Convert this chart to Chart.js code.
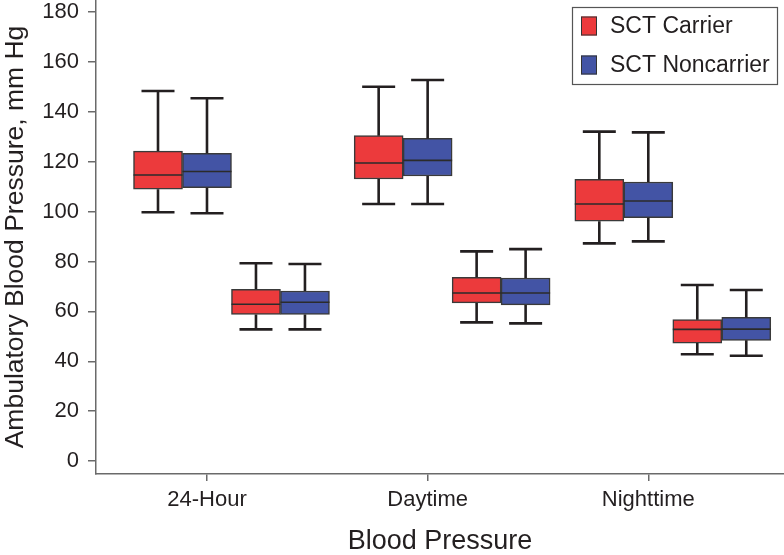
<!doctype html>
<html>
    <head>
        <meta charset="UTF-8" />
        <script src="https://cdn.jsdelivr.net/npm/chart.js"></script>
        <style>
            body { margin: 0; background: #fff; }
        </style>
    </head>
    <body>
        <canvas id="bpChart" width="784" height="555"></canvas>
        <script>
            // tick labels / categories
            const categories = ["24-Hour", "Daytime", "Nighttime"];
            const yTicks = [0, 20, 40, 60, 80, 100, 120, 140, 160, 180];
            const seriesNames = ["SCT Carrier", "SCT Noncarrier"];

            // [min, q1, median, q3, max] per category
            const carrierSystolic = [
                [99.8, 109.0, 114.7, 124.3, 148.4],
                [103.1, 113.1, 119.5, 130.5, 150.1],
                [87.3, 96.2, 103.1, 113.0, 132.1],
            ];
            const carrierDiastolic = [
                [52.8, 58.8, 62.9, 68.9, 79.3],
                [55.6, 63.4, 67.4, 73.7, 84.1],
                [42.8, 47.3, 52.8, 56.7, 70.6],
            ];
            const noncarrierSystolic = [
                [99.4, 109.6, 116.1, 123.4, 145.5],
                [103.1, 114.3, 120.6, 129.4, 152.8],
                [88.1, 97.6, 104.3, 111.9, 131.8],
            ];
            const noncarrierDiastolic = [
                [52.8, 58.8, 63.7, 68.2, 79.0],
                [55.2, 62.6, 67.4, 73.4, 85.0],
                [42.2, 48.4, 52.9, 57.6, 68.6],
            ];

            const RED = "#ec3a3c";
            const BLUE = "#4354a5";
            const INK = "#231f20";
            const AXIS = "#6a6a6a";
            const BOX_W = 49;
            const STEP = 0.222; // one box width in category units

            // place the systolic and diastolic boxes of one series around each tick
            const buildBoxes = (sys, dia, sysOff, diaOff) => {
                const data = [];
                const stats = [];
                categories.forEach((c, i) => {
                    data.push({ x: i + sysOff, y: [sys[i][1], sys[i][3]] });
                    stats.push(sys[i]);
                    data.push({ x: i + diaOff, y: [dia[i][1], dia[i][3]] });
                    stats.push(dia[i]);
                });
                return { data, stats };
            };

            const carrier = buildBoxes(carrierSystolic, carrierDiastolic, -STEP, STEP);
            const noncarrier = buildBoxes(noncarrierSystolic, noncarrierDiastolic, 0, 2 * STEP);

            const whiskers = {
                id: "whiskers",
                afterDatasetsDraw(chart) {
                    const ctx = chart.ctx;
                    const y = chart.scales.y;
                    chart.data.datasets.forEach((ds, di) => {
                        const meta = chart.getDatasetMeta(di);
                        meta.data.forEach((bar, j) => {
                            const [mn, q1, md, q3, mx] = ds.stats[j];
                            const cx = bar.x;
                            const half = bar.width / 2;
                            ctx.save();
                            ctx.strokeStyle = INK;
                            ctx.lineWidth = 2.6;
                            ctx.beginPath();
                            ctx.moveTo(cx, y.getPixelForValue(q3));
                            ctx.lineTo(cx, y.getPixelForValue(mx));
                            ctx.moveTo(cx - 16.5, y.getPixelForValue(mx));
                            ctx.lineTo(cx + 16.5, y.getPixelForValue(mx));
                            ctx.moveTo(cx, y.getPixelForValue(q1));
                            ctx.lineTo(cx, y.getPixelForValue(mn));
                            ctx.moveTo(cx - 16.5, y.getPixelForValue(mn));
                            ctx.lineTo(cx + 16.5, y.getPixelForValue(mn));
                            ctx.stroke();
                            ctx.strokeStyle = "#2b2b2b";
                            ctx.lineWidth = 1.6;
                            ctx.beginPath();
                            ctx.moveTo(cx - half, y.getPixelForValue(md));
                            ctx.lineTo(cx + half, y.getPixelForValue(md));
                            ctx.stroke();
                            ctx.restore();
                        });
                    });
                },
            };

            const boxLegend = {
                id: "boxLegend",
                afterDraw(chart) {
                    const ctx = chart.ctx;
                    ctx.save();
                    ctx.strokeStyle = "#555";
                    ctx.lineWidth = 1.2;
                    ctx.strokeRect(572.5, 7.5, 205, 77);
                    ctx.font = "23px 'Liberation Sans', Arial, sans-serif";
                    ctx.textBaseline = "middle";
                    chart.data.datasets.forEach((ds, i) => {
                        const cy = 26 + i * 39;
                        ctx.fillStyle = ds.backgroundColor;
                        ctx.fillRect(581, cy - 9.5, 16, 19);
                        ctx.strokeStyle = "#333";
                        ctx.lineWidth = 1;
                        ctx.strokeRect(581.5, cy - 9, 15, 18);
                        ctx.fillStyle = INK;
                        ctx.fillText(ds.label, 610, cy + 1);
                    });
                    ctx.restore();
                },
            };

            new Chart(document.getElementById("bpChart"), {
                type: "bar",
                data: {
                    datasets: [
                        {
                            label: seriesNames[0],
                            data: carrier.data,
                            stats: carrier.stats,
                            backgroundColor: RED,
                            borderColor: "#3a3a3a",
                            borderWidth: 1.5,
                            borderSkipped: false,
                            barThickness: BOX_W,
                            grouped: false,
                        },
                        {
                            label: seriesNames[1],
                            data: noncarrier.data,
                            stats: noncarrier.stats,
                            backgroundColor: BLUE,
                            borderColor: "#3a3a3a",
                            borderWidth: 1.5,
                            borderSkipped: false,
                            barThickness: BOX_W,
                            grouped: false,
                        },
                    ],
                },
                options: {
                    responsive: false,
                    animation: false,
                    layout: { padding: 0 },
                    plugins: {
                        legend: { display: false },
                        tooltip: { enabled: false },
                    },
                    scales: {
                        x: {
                            type: "linear",
                            min: -0.503,
                            max: 2.615,
                            offset: false,
                            border: { color: AXIS, width: 1.5 },
                            grid: {
                                offset: false,
                                drawOnChartArea: false,
                                color: AXIS,
                                lineWidth: 1.5,
                                tickLength: 7,
                            },
                            afterBuildTicks: (s) => {
                                s.ticks = categories.map((c, i) => ({ value: i }));
                            },
                            afterFit: (s) => {
                                s.height = 81;
                                s.paddingLeft = 0;
                                s.paddingRight = 0;
                            },
                            ticks: {
                                color: INK,
                                padding: 6,
                                font: { family: "'Liberation Sans', Arial", size: 22 },
                                callback: (v) => categories[v],
                            },
                            title: {
                                display: true,
                                text: "Blood Pressure",
                                color: INK,
                                padding: 0,
                                font: { family: "'Liberation Sans', Arial", size: 27, lineHeight: 1 },
                            },
                        },
                        y: {
                            min: -5.2,
                            max: 184.9,
                            border: { color: AXIS, width: 1.5 },
                            grid: {
                                drawOnChartArea: false,
                                color: AXIS,
                                lineWidth: 1.5,
                                tickLength: 8,
                            },
                            afterBuildTicks: (s) => {
                                s.ticks = yTicks.map((v) => ({ value: v }));
                            },
                            afterFit: (s) => {
                                s.width = 96;
                                s.paddingTop = 0;
                                s.paddingBottom = 0;
                            },
                            ticks: {
                                color: INK,
                                padding: 9,
                                font: { family: "'Liberation Sans', Arial", size: 22 },
                            },
                            title: {
                                display: true,
                                text: "Ambulatory Blood Pressure, mm Hg",
                                color: INK,
                                padding: { top: 2, bottom: 0 },
                                font: { family: "'Liberation Sans', Arial", size: 26.5, lineHeight: 1 },
                            },
                        },
                    },
                },
                plugins: [whiskers, boxLegend],
            });
        </script>
    </body>
</html>
